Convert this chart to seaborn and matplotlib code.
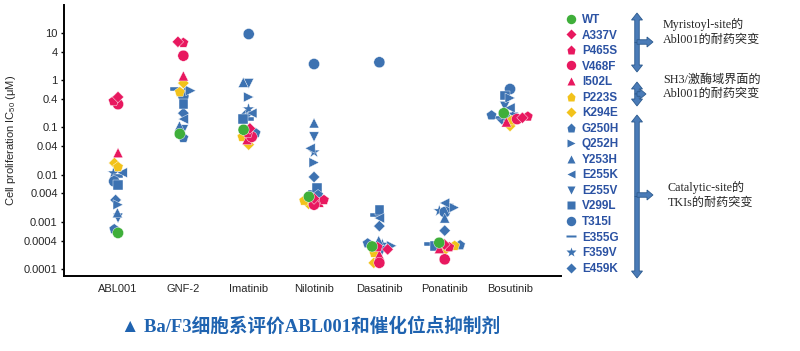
import warnings
warnings.filterwarnings("ignore")
import numpy as np
import pandas as pd
import matplotlib
matplotlib.use("Agg")
import matplotlib.pyplot as plt
import seaborn as sns
from matplotlib.lines import Line2D
from matplotlib.patches import FancyArrow

# ---------------- data ----------------
DRUGS = ["ABL001", "GNF-2", "Imatinib", "Nilotinib", "Dasatinib", "Ponatinib", "Bosutinib"]
MUTANTS = ["WT", "A337V", "P465S", "V468F", "I502L", "P223S", "K294E", "G250H", "Q252H",
           "Y253H", "E255K", "E255V", "V299L", "T315I", "E355G", "F359V", "E459K"]

# IC50 (uM), one value per mutant (same order as MUTANTS)
ABL001 = [0.00058, 0.44, 0.36, 0.31, 0.029, 0.0145, 0.0176, 0.0007, 0.0023, 0.00155,
          0.011, 0.0012, 0.006, 0.0072, 0.0093, 0.0108, 0.0029]
GNF2 = [0.073, 6.5, 6.2, 3.3, 1.23, 0.56, 0.87, 0.06, 0.6, 0.107,
        0.15, 0.089, 0.31, 0.46, 0.65, 0.59, 0.2]
IMATINIB = [0.089, 0.095, 0.075, 0.063, 0.055, 0.063, 0.043, 0.076, 0.44, 0.9,
            0.2, 0.85, 0.15, 9.5, 0.15, 0.245, 0.19]
NILOTINIB = [0.0034, 0.0031, 0.0029, 0.0023, 0.0026, 0.0028, 0.0024, 0.0037, 0.018, 0.124,
             0.036, 0.063, 0.0052, 2.2, 0.0043, 0.03, 0.0089]
DASATINIB = [0.0003, 0.00026, 0.00029, 0.000135, 0.0002, 0.00022, 0.000135, 0.00035, 0.00031, 0.0004,
             0.0012, 0.00025, 0.0018, 2.4, 0.0014, 0.00033, 0.00081]
PONATINIB = [0.00036, 0.00033, 0.00029, 0.00016, 0.00027, 0.00031, 0.00025, 0.00032, 0.002, 0.0012,
             0.0025, 0.0019, 0.00031, 0.0016, 0.00034, 0.0017, 0.00065]
BOSUTINIB = [0.2, 0.16, 0.17, 0.15, 0.13, 0.14, 0.107, 0.18, 0.42, 0.17,
             0.26, 0.28, 0.47, 0.65, 0.16, 0.19, 0.15]
VALUES = [ABL001, GNF2, IMATINIB, NILOTINIB, DASATINIB, PONATINIB, BOSUTINIB]

YTICKS = [10, 4, 1, 0.4, 0.1, 0.04, 0.01, 0.004, 0.001, 0.0004, 0.0001]
YTICK_LABELS = ["10", "4", "1", "0.4", "0.1", "0.04", "0.01", "0.004", "0.001", "0.0004", "0.0001"]

GROUP_TEXT = [("Myristoyl-site的\nAbl001的耐药突变"),
              ("SH3/激酶域界面的\nAbl001的耐药突变"),
              ("Catalytic-site的\nTKIs的耐药突变")]
TITLE = "▲ Ba/F3细胞系评价ABL001和催化位点抑制剂"
YLABEL = "Cell proliferation IC$_{50}$ (μM)"

# ---------------- styles ----------------
GREEN, RED, YELLOW, BLUE = "#3faf3a", "#e8185f", "#f2c21b", "#3d72b1"
PALETTE = {m: (GREEN if m == "WT" else RED if m in ("A337V", "P465S", "V468F", "I502L")
               else YELLOW if m in ("P223S", "K294E") else BLUE) for m in MUTANTS}
DASH = [(-1, -0.32), (1, -0.32), (1, 0.32), (-1, 0.32), (-1, -0.32)]
MARKERS = {"WT": "o", "A337V": "D", "P465S": "p", "V468F": "o", "I502L": "^",
           "P223S": "p", "K294E": "D", "G250H": "p", "Q252H": ">", "Y253H": "^",
           "E255K": "<", "E255V": "v", "V299L": "s", "T315I": "o", "E355G": DASH,
           "F359V": "*", "E459K": "D"}
MSIZE = {"o": 64, "D": 34, "p": 62, "^": 52, ">": 52, "<": 52, "v": 52, "s": 48, "*": 85}
SIZES = {m: MSIZE.get(MARKERS[m], 60) if isinstance(MARKERS[m], str) else 60 for m in MUTANTS}

sns.set_style("white")
plt.rcParams["font.family"] = ["Liberation Sans", "Noto Sans CJK SC", "DejaVu Sans"]
plt.rcParams["mathtext.fontset"] = "custom"
plt.rcParams["mathtext.rm"] = "Liberation Sans"
plt.rcParams["mathtext.it"] = "Liberation Sans:italic"

df = pd.DataFrame({
    "drug": np.repeat(DRUGS, len(MUTANTS)),
    "mutant": MUTANTS * len(DRUGS),
    "ic50": np.concatenate(VALUES),
})

W, H = 800, 351
AX_RECT = [64 / W, 75 / H, (561 - 64) / W, (276 - 5) / H]
XLIM = (-0.827, 6.78)
YLIM = (7.1e-5, 39.2)

# ---- swarm layout computed by seaborn on an identical helper axes ----
tmp_fig = plt.figure(figsize=(W / 100, H / 100), dpi=100)
tmp_ax = tmp_fig.add_axes(AX_RECT)
sns.swarmplot(data=df, x="drug", y="ic50", order=DRUGS, size=3.8, log_scale=True,
              ax=tmp_ax, color="k", warn_thresh=1)
tmp_ax.set_xlim(*XLIM)
tmp_ax.set_ylim(*YLIM)
tmp_fig.canvas.draw()
df["xpos"] = np.concatenate([c.get_offsets()[:, 0] for c in tmp_ax.collections])
plt.close(tmp_fig)

# ---------------- main figure ----------------
fig = plt.figure(figsize=(W / 100, H / 100), dpi=100)
ax = fig.add_axes(AX_RECT)
ax.set_yscale("log")
plot_df = df.iloc[::-1]
sns.scatterplot(data=plot_df, x="xpos", y="ic50", hue="mutant", style="mutant", size="mutant",
                palette=PALETTE, markers=MARKERS, sizes=SIZES, hue_order=MUTANTS,
                style_order=MUTANTS, size_order=MUTANTS,
                linewidth=0.3, edgecolor="white", legend=False, ax=ax)
ax.set_xlim(*XLIM)
ax.set_ylim(*YLIM)
ax.set_xticks(range(len(DRUGS)))
ax.set_xticklabels(DRUGS, fontsize=8)
ax.set_yticks(YTICKS)
ax.set_yticklabels(YTICK_LABELS, fontsize=8)
ax.minorticks_off()
ax.tick_params(axis="y", length=2.5, width=1, pad=2, color="black", left=True)
ax.tick_params(axis="x", length=0, pad=6)
ax.set_xlabel("")
ax.set_ylabel(YLABEL, fontsize=8, labelpad=4)
for s in ("top", "right"):
    ax.spines[s].set_visible(False)
for s in ("left", "bottom"):
    ax.spines[s].set_color("black")
    ax.spines[s].set_linewidth(1.4)

# legend
handles = [Line2D([0], [0], marker=MARKERS[m], color="none", markerfacecolor=PALETTE[m],
                  markeredgecolor="none", markersize=np.sqrt(SIZES[m]) * 0.85, label=m)
           for m in MUTANTS]
leg = fig.legend(handles=handles, loc="upper left", bbox_to_anchor=(566 / W, 1 - 14 / H),
                 frameon=False, prop={"size": 8.5, "weight": "bold"}, handlelength=0.9,
                 handletextpad=0.45, labelspacing=0.3, borderpad=0, borderaxespad=0)
for t in leg.get_texts():
    t.set_color("#2b52a3")

# overlay (pixel coordinates) for brackets, notes and caption
ov = fig.add_axes([0, 0, 1, 1], facecolor="none")
ov.set_xlim(0, W)
ov.set_ylim(H, 0)
ov.axis("off")
ARROW_FC, ARROW_EC = "#4a7bb7", "#2c5a8e"


def bracket(x, y0, y1, yb, xb):
    mid = (y0 + y1) / 2
    kw = dict(width=4.5, head_width=11, head_length=7, length_includes_head=True,
              fc=ARROW_FC, ec=ARROW_EC, lw=0.6)
    ov.add_patch(FancyArrow(x, mid, 0, y0 - mid, **kw))
    ov.add_patch(FancyArrow(x, mid, 0, y1 - mid, **kw))
    ov.add_patch(FancyArrow(x, yb, xb - x, 0, width=4.5, head_width=10, head_length=6,
                            length_includes_head=True, fc=ARROW_FC, ec=ARROW_EC, lw=0.6))


bracket(637, 13, 72, 42, 653)
bracket(637, 82, 106, 94, 646)
bracket(637, 115, 278, 195, 653)

serif = ["Liberation Serif", "Noto Sans CJK SC", "DejaVu Sans"]
ov.text(663, 32, GROUP_TEXT[0], family=serif, fontsize=8.7, va="center", ha="left", linespacing=1.25)
ov.text(663, 87, GROUP_TEXT[1], family=serif, fontsize=8.7, va="center", ha="left", linespacing=1.25)
ov.text(668, 195, GROUP_TEXT[2], family=serif, fontsize=8.7, va="center", ha="left", linespacing=1.25)
ov.text(121, 327, TITLE, family=serif, fontsize=13.4, fontweight="bold", color="#1f63b0",
        va="center", ha="left")

fig.savefig("out.png", dpi=100)
